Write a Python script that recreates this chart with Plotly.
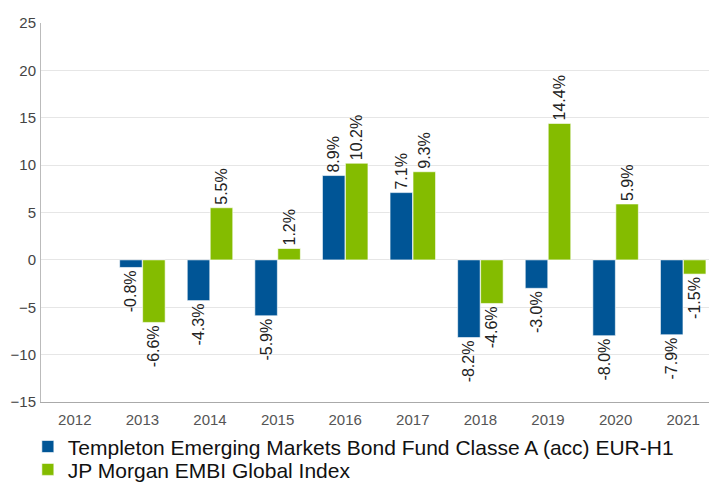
import plotly.graph_objects as go

years = ["2012", "2013", "2014", "2015", "2016", "2017", "2018", "2019", "2020", "2021"]
templeton = [None, -0.8, -4.3, -5.9, 8.9, 7.1, -8.2, -3.0, -8.0, -7.9]
jpm = [None, -6.6, 5.5, 1.2, 10.2, 9.3, -4.6, 14.4, 5.9, -1.5]
names = ["Templeton Emerging Markets Bond Fund Classe A (acc) EUR-H1",
         "JP Morgan EMBI Global Index"]
colors = ["#005596", "#84bc00"]
y_ticks = [-15, -10, -5, 0, 5, 10, 15, 20, 25]

def labels(vals):
    return ["" if v is None else f"{v:.1f}%" for v in vals]

FONT = "Liberation Sans, Arial, sans-serif"
fig = go.Figure()
for vals, name, col, leg in zip([templeton, jpm], names, colors, ["legend", "legend2"]):
    fig.add_trace(go.Bar(
        x=years, y=vals, name=name, legend=leg,
        marker=dict(color=col, line=dict(color="rgba(255,255,255,0.6)", width=1)),
        text=labels(vals), textposition="outside", textangle=-90,
        constraintext="none", cliponaxis=False,
        textfont=dict(family=FONT, size=16, color="#222"),
        hoverinfo="skip",
    ))

leg_common = dict(orientation="v", x=0.028, xref="container", xanchor="left",
                  yref="container", yanchor="middle",
                  font=dict(size=21, color="#111", family=FONT),
                  bgcolor="rgba(0,0,0,0)")
# page body has an 8px margin, so the figure is sized to fit the 717x485 window
fig.update_layout(
    width=709, height=477,
    margin=dict(l=33, r=0, t=15, b=83, autoexpand=False),
    paper_bgcolor="white", plot_bgcolor="white",
    barmode="group", bargap=0.32, bargroupgap=0.02,
    font=dict(family=FONT, color="#444"),
    showlegend=True,
    legend=dict(y=0.080, **leg_common),
    legend2=dict(y=0.032, **leg_common),
    xaxis=dict(type="category", showline=True, linecolor="#aaaaaa", linewidth=1,
               tickfont=dict(size=15, color="#555"), ticks="", showgrid=False,
               automargin=False, ticklabelstandoff=4),
    yaxis=dict(range=[-15, 25], tickvals=y_ticks, showgrid=True, gridcolor="#e6e6e6",
               zeroline=True, zerolinecolor="#e6e6e6", zerolinewidth=1,
               showline=True, linecolor="#bbbbbb", linewidth=1,
               tickfont=dict(size=15, color="#444"), ticks="",
               automargin=False, ticklabelstandoff=1),
)

fig.write_html("out.html")
